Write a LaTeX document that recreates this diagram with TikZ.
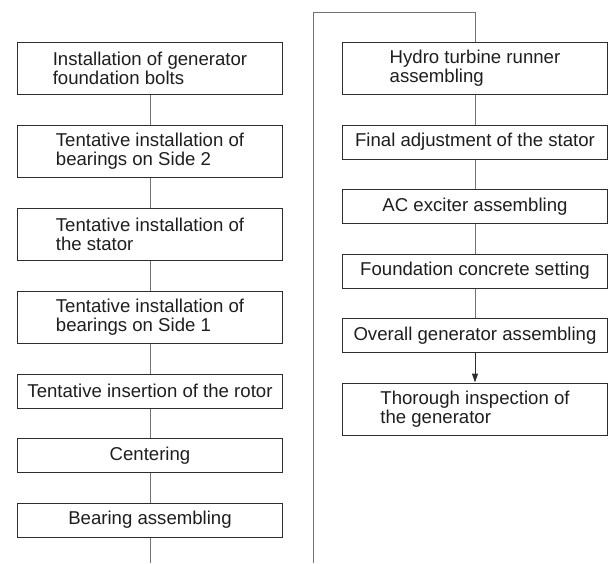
\documentclass[tikz,border=0pt]{standalone}
\usepackage{fontspec}
\setmainfont{Liberation Sans}
\usepackage{tikz}
\usetikzlibrary{positioning, arrows.meta}
\definecolor{boxline}{RGB}{45,45,45}
\definecolor{linkline}{RGB}{115,115,115}
\definecolor{textcol}{RGB}{30,30,30}
\tikzset{
  task/.style={
    rectangle, draw=boxline, line width=1pt, minimum width=265pt,
    minimum height=34pt, inner sep=2pt, align=left,
    font=\fontsize{18.6}{19.5}\selectfont, text=textcol
  },
  task2/.style={task, minimum height=52.5pt},
  link/.style={draw=linkline, line width=1pt},
  last link/.style={draw=boxline, line width=1pt, -{Triangle[length=9pt,width=6pt]}},
}
\begin{document}
\begin{tikzpicture}[node distance=29.5pt]
  \useasboundingbox (0,0) rectangle (611pt,-563pt);
  % left column
  \node[task2, anchor=north] (bolts) at (150pt,-41.5pt) {Installation of generator\\foundation bolts};
  \node[task2, below=of bolts] (side2) {Tentative installation of\\bearings on Side 2};
  \node[task2, below=of side2] (stator) {Tentative installation of\\the stator};
  \node[task2, below=of stator] (side1) {Tentative installation of\\bearings on Side 1};
  \node[task, below=of side1] (rotor) {Tentative insertion of the rotor};
  \node[task, below=of rotor] (center) {Centering};
  \node[task, below=of center] (bearing) {Bearing assembling};
  % right column
  \node[task2, anchor=north] (runner) at (475pt,-41.5pt) {Hydro turbine runner\\assembling};
  \node[task, below=of runner] (adjust) {Final adjustment of the stator};
  \node[task, below=of adjust] (exciter) {AC exciter assembling};
  \node[task, below=of exciter] (concrete) {Foundation concrete setting};
  \node[task, below=of concrete] (overall) {Overall generator assembling};
  \node[task2, below=of overall] (inspect) {Thorough inspection of\\the generator};
  % return path between the columns
  \coordinate (leftend) at (150pt,-563pt);
  \coordinate (rightend) at (313pt,-563pt);
  \coordinate (topleft) at (313pt,-12pt);
  \coordinate (topright) at (475pt,-12pt);
  \path[link] (bolts) -- (side2)
              (side2) -- (stator)
              (stator) -- (side1)
              (side1) -- (rotor)
              (rotor) -- (center)
              (center) -- (bearing)
              (bearing) -- (leftend);
  \path[link] (rightend) -- (topleft) -- (topright) -- (runner);
  \path[link] (runner) -- (adjust)
              (adjust) -- (exciter)
              (exciter) -- (concrete)
              (concrete) -- (overall);
  \path[last link] (overall) -- (inspect);
\end{tikzpicture}
\end{document}
